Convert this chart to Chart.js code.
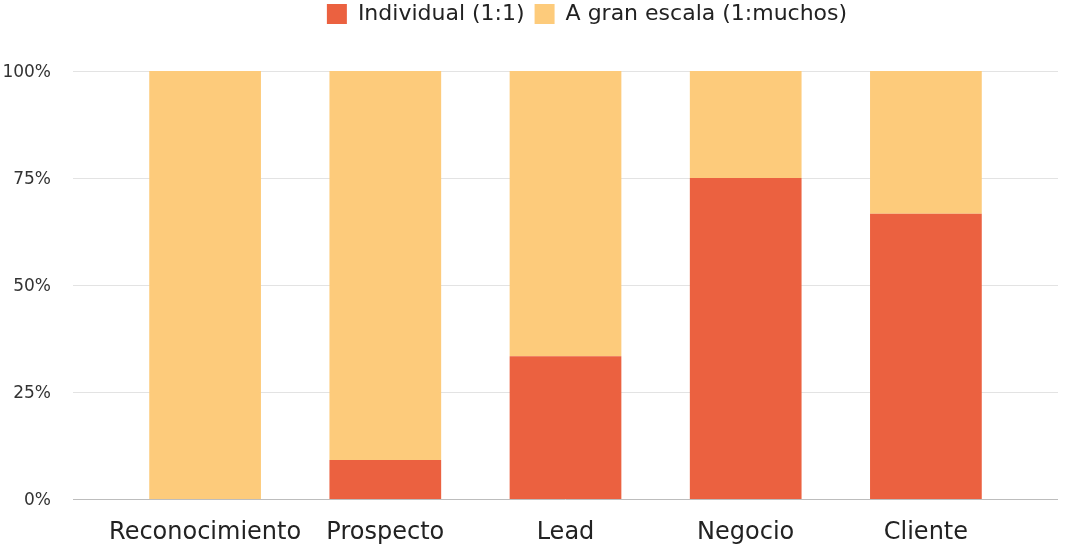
<!DOCTYPE html>
<html>
<head>
<meta charset="utf-8">
<script src="https://cdn.jsdelivr.net/npm/chart.js@4"></script>
<style>
  html, body { margin: 0; padding: 0; background: #fff; overflow: hidden; }
  canvas { display: block; }
</style>
</head>
<body>
<canvas id="chart" width="1080" height="545"></canvas>
<script>
const categories = ['Reconocimiento', 'Prospecto', 'Lead', 'Negocio', 'Cliente'];
const individual = [0, 9.09, 33.33, 75, 66.67];
const granEscala = [100, 90.91, 66.67, 25, 33.33];
const yTicks = [0, 25, 50, 75, 100];

// grid lines run wider than the category area, like the original
const wideGrid = {
  id: 'wideGrid',
  beforeDatasetsDraw(chart) {
    const y = chart.scales.y;
    const ctx = chart.ctx;
    ctx.save();
    yTicks.forEach(v => {
      const py = Math.round(y.getPixelForValue(v)) + 0.5;
      ctx.strokeStyle = v === 0 ? '#bdbdbd' : '#e3e3e3';
      ctx.lineWidth = 1;
      ctx.beginPath();
      ctx.moveTo(73, py);
      ctx.lineTo(1058, py);
      ctx.stroke();
    });
    ctx.restore();
  }
};

// fix the legend height and nudge it right/up
const legendTweak = {
  id: 'legendTweak',
  beforeInit(chart) {
    const lg = chart.legend;
    const fit = lg.fit;
    lg.fit = function () {
      fit.call(lg);
      lg.height = 71;
    };
    const draw = lg.draw;
    lg.draw = function () {
      chart.ctx.save();
      chart.ctx.translate(79, -7);
      draw.call(lg);
      chart.ctx.restore();
    };
  }
};

// y labels sit well left of the plot; shift them instead of using a big padding
function shiftYLabels(scale) {
  if (scale._shifted) return;
  scale._shifted = true;
  const drawLabels = scale.drawLabels;
  scale.drawLabels = function (area) {
    const ctx = scale.ctx;
    ctx.save();
    ctx.translate(-64, 2);
    drawLabels.call(scale, area);
    ctx.restore();
  };
}

new Chart(document.getElementById('chart'), {
  type: 'bar',
  data: {
    labels: categories,
    datasets: [
      {
        label: 'Individual (1:1)',
        data: individual,
        backgroundColor: '#eb6140',
      },
      {
        label: 'A gran escala (1:muchos)',
        data: granEscala,
        backgroundColor: '#fdcb7b',
      },
    ],
  },
  options: {
    responsive: false,
    animation: false,
    layout: { padding: { top: 0, right: 64, bottom: 0, left: 0 } },
    datasets: { bar: { barPercentage: 0.62, categoryPercentage: 1 } },
    plugins: {
      legend: {
        position: 'top',
        labels: {
          boxWidth: 20,
          boxHeight: 20,
          padding: 10,
          color: '#222',
          font: { family: 'DejaVu Sans', size: 22 },
        },
      },
      tooltip: { enabled: false },
    },
    scales: {
      x: {
        stacked: true,
        grid: { display: false },
        border: { display: false },
        afterFit(scale) { scale.height = 46; },
        ticks: {
          color: '#222',
          padding: 11,
          autoSkip: false,
          maxRotation: 0,
          font: { family: 'DejaVu Sans', size: 24 },
        },
      },
      y: {
        stacked: true,
        min: 0,
        max: 100,
        grid: { display: false, drawTicks: false },
        border: { display: false },
        afterFit(scale) { scale.width = 115; },
        afterUpdate: shiftYLabels,
        ticks: {
          stepSize: 25,
          padding: 0,
          color: '#333',
          font: { family: 'DejaVu Sans', size: 17 },
          callback: v => v + '%',
        },
      },
    },
  },
  plugins: [wideGrid, legendTweak],
});
</script>
</body>
</html>
